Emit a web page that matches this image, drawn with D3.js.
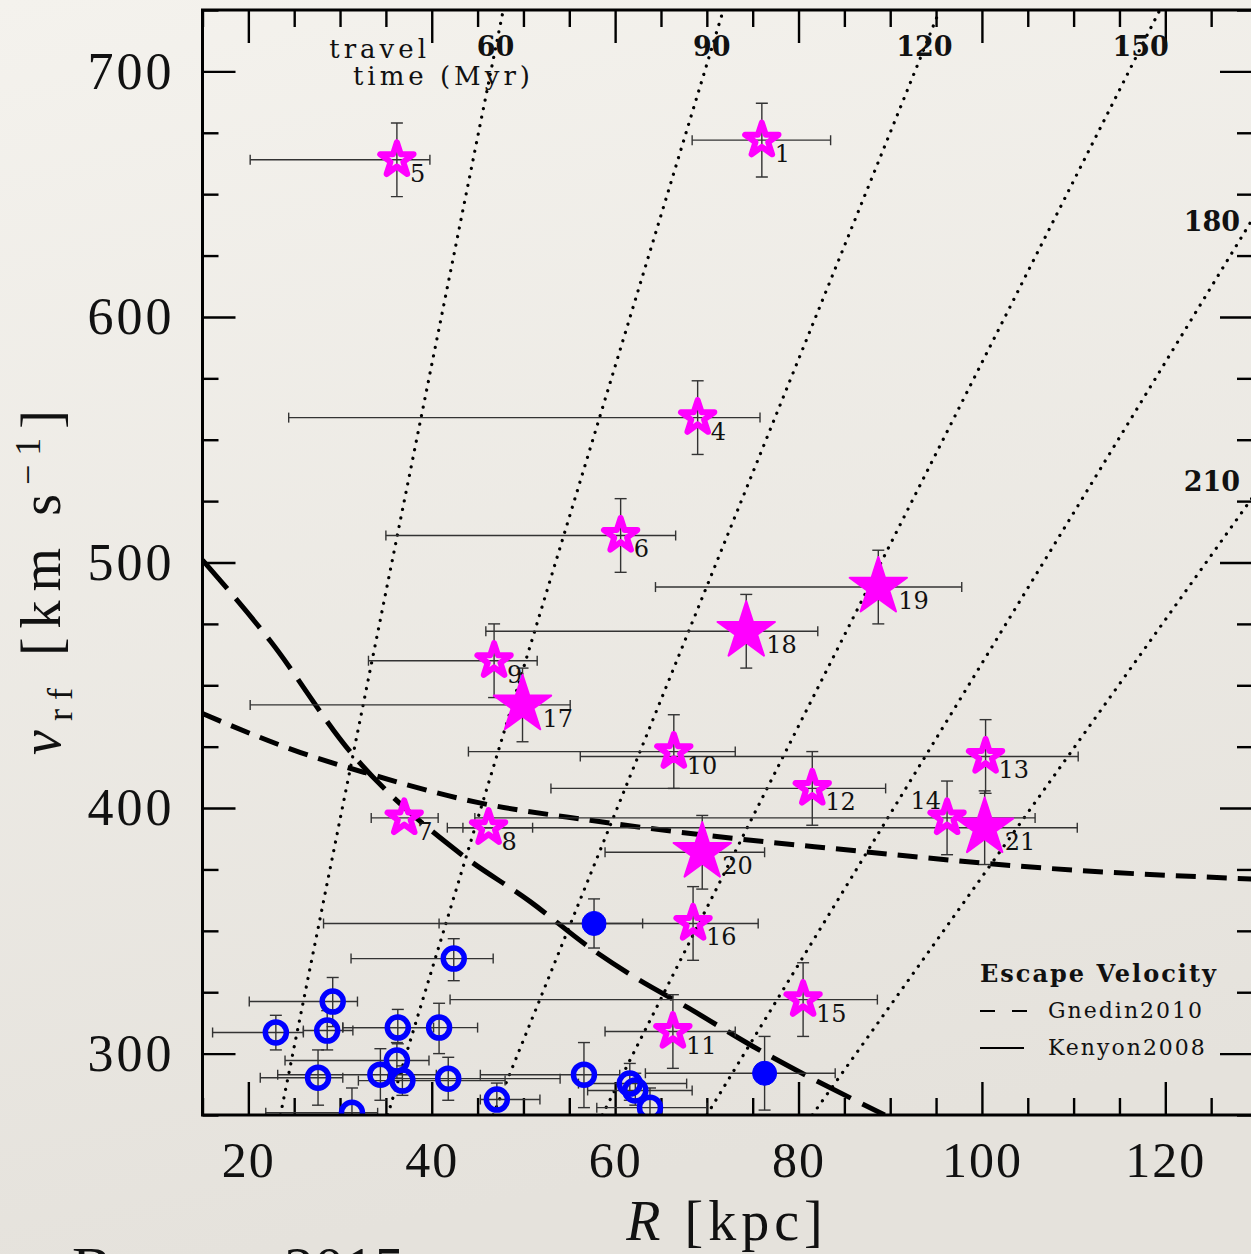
<!DOCTYPE html>
<meta charset="utf-8">
<style>
body { margin: 0; }
svg { display: block; }
.tick line { stroke: #000; stroke-width: 2.4px; }
.tick text { font-family: "Liberation Serif", serif; fill: #111; }
.err line { stroke: #333; stroke-width: 1.4px; }
</style>

<svg width="1251" height="1254"></svg>

<script src="https://d3js.org/d3.v7.min.js"></script>
<script>

// ---- data ----
// hypervelocity stars: label, R [kpc], R error range, v_rf, v error, filled?
var starLabel  = ["1", "5", "4", "6", "9", "10", "13", "12", "14", "7", "8", "16", "15", "11", "19", "18", "17", "20", "21"];
var starR      = [76.0, 36.2, 69.0, 60.6, 46.8, 66.4, 100.4, 81.5, 96.2, 37.0, 46.2, 68.5, 80.5, 66.3, 88.7, 74.3, 49.9, 69.5, 100.3];
var starRlo    = [68.4, 20.2, 24.4, 35.0, 33.1, 44.0, 56.2, 53.0, 44.7, 33.4, 43.4, 40.8, 42.0, 58.9, 64.4, 45.9, 20.2, 58.9, 41.7];
var starRhi    = [83.5, 39.8, 75.8, 66.6, 51.5, 73.1, 110.5, 89.5, 105.8, 40.7, 51.0, 75.6, 88.6, 73.1, 97.8, 82.1, 55.1, 76.3, 110.4];
var starV      = [672, 664, 559, 511, 460, 423, 421, 408, 396, 396, 392, 353, 322, 309, 490, 472, 442, 382, 392];
var starVerr   = [15, 15, 15, 15, 15, 15, 15, 15, 15, 0, 0, 15, 15, 15, 15, 15, 15, 15, 15];
var starFilled = [0, 0, 0, 0, 0, 0, 0, 0, 0, 0, 0, 0, 0, 0, 1, 1, 1, 1, 1];

// blue horizontal-branch stars
var bhbR      = [42.4, 29.2, 23.0, 28.6, 36.3, 40.8, 36.2, 27.6, 34.4, 36.8, 41.8, 47.1, 31.3, 56.6, 61.6, 62.2, 63.8, 57.7, 76.3];
var bhbRlo    = [31.2, 20.1, 16.1, 26.0, 30.3, 30.3, 24.0, 21.3, 23.2, 32.0, 35.2, 45.3, 21.9, 45.3, 56.0, 57.0, 58.0, 28.2, 63.3];
var bhbRhi    = [46.7, 31.9, 26.0, 31.4, 40.2, 45.0, 39.7, 30.3, 40.5, 48.0, 54.0, 51.8, 34.1, 60.5, 67.8, 68.4, 70.0, 63.0, 84.0];
var bhbV      = [338.7, 321.2, 308.6, 309.4, 310.6, 310.6, 297.2, 290.2, 291.4, 289.0, 289.8, 281.3, 275.9, 291.4, 287.8, 285.0, 278.0, 353.0, 292.0];
var bhbVlo    = [329.7, 311, 301.5, 301.5, 304, 300, 290, 279, 281, 283, 281, 277, 270, 278, 281, 279, 270, 343, 277];
var bhbVhi    = [346.8, 331, 315.6, 317.5, 318, 320.5, 304.5, 301.5, 302, 295, 298.5, 288, 286, 304.5, 296, 292, 286, 363, 307];
var bhbFilled = [0, 0, 0, 0, 0, 0, 0, 0, 0, 0, 0, 0, 0, 0, 0, 0, 0, 1, 1];

// travel time lines: R at v = 275 and at v = 725
var travelTime    = [60, 90, 120, 150, 180, 210];
var travelRbottom = [23.5, 35.2, 46.7, 58.6, 70.0, 81.5];
var travelRtop    = [47.8, 71.8, 95.4, 119.4, 143.4, 167.4];

// escape velocity curves [R, v]
var escSteepR  = [15, 22.4, 31.1, 43.1, 50.7, 57.3, 62.4, 67.8, 75.0, 89.4];
var escSteepV  = [501, 468, 423, 381.5, 362, 343, 330.5, 319, 303, 275];
var escShallowR = [15, 25.7, 32.75, 45.1, 57.3, 71.1, 83.8, 107.4, 130];
var escShallowV = [438.5, 422.6, 414.4, 402.2, 395, 388.4, 383.5, 375.4, 371];

var xMajor = [20, 40, 60, 80, 100, 120];
var yMajor = [300, 400, 500, 600, 700];

// ---- layout ----
var svg = d3.select("svg"),
    width = +svg.attr("width"),
    height = +svg.attr("height");

var plotL = 202.5, plotR = 1257, plotT = 10, plotB = 1115;

var x = d3.scaleLinear().domain([15, 130]).range([plotL, plotR]);
var y = d3.scaleLinear().domain([275, 725]).range([plotB, plotT]);

var defs = svg.append("defs");
var bg = defs.append("linearGradient").attr("id", "paper")
    .attr("x1", 0).attr("y1", 0).attr("x2", 0.2).attr("y2", 1);
bg.append("stop").attr("offset", "0%").attr("stop-color", "#f4f2ed");
bg.append("stop").attr("offset", "100%").attr("stop-color", "#e5e2dc");

defs.append("clipPath").attr("id", "plotclip")
  .append("rect")
    .attr("x", plotL).attr("y", plotT)
    .attr("width", plotR - plotL).attr("height", plotB - plotT);

svg.append("rect").attr("width", width).attr("height", height).attr("fill", "url(#paper)");

// ---- ticks ----
var xMinor = d3.range(15, 131, 5).filter(function(d) { return xMajor.indexOf(d) < 0; });
var yMinor = d3.range(275, 726, 25).filter(function(d) { return yMajor.indexOf(d) < 0; });

function ticks(axis, values, size, label) {
  var a = axis.tickValues(values).tickSize(-size);
  if (!label) a.tickFormat("");
  return a;
}

var gx = svg.append("g").attr("transform", "translate(0," + plotB + ")");
gx.append("g").call(ticks(d3.axisBottom(x), xMinor, 17, false));
gx.append("g").call(ticks(d3.axisBottom(x), xMajor, 33, true).tickPadding(26))
  .selectAll("text").style("font-size", "50px").style("letter-spacing", "2px");

var gxt = svg.append("g").attr("transform", "translate(0," + plotT + ")");
gxt.append("g").call(ticks(d3.axisTop(x), xMinor, 17, false));
gxt.append("g").call(ticks(d3.axisTop(x), xMajor, 33, false));

var gy = svg.append("g").attr("transform", "translate(" + plotL + ",0)");
gy.append("g").call(ticks(d3.axisLeft(y), yMinor, 16, false));
gy.append("g").call(ticks(d3.axisLeft(y), yMajor, 33, true).tickPadding(28))
  .selectAll("text").style("font-size", "52px").style("letter-spacing", "3px");

var gyr = svg.append("g").attr("transform", "translate(" + plotR + ",0)");
gyr.append("g").call(ticks(d3.axisRight(y), yMinor, 20, false));
gyr.append("g").call(ticks(d3.axisRight(y), yMajor, 37, false));

svg.selectAll(".domain").remove();

// ---- plot content ----
var plot = svg.append("g").attr("clip-path", "url(#plotclip)");

// travel time lines
plot.append("g").selectAll("line")
  .data(travelTime)
  .enter().append("line")
    .attr("x1", function(d, i) { return x(travelRbottom[i]); })
    .attr("y1", y(275))
    .attr("x2", function(d, i) { return x(travelRtop[i]); })
    .attr("y2", y(725))
    .attr("stroke", "#000")
    .attr("stroke-width", 3.2)
    .attr("stroke-linecap", "round")
    .attr("stroke-dasharray", "0.1 8.6");

// escape velocity curves
var line = d3.line().curve(d3.curveMonotoneX)
    .x(function(d) { return x(d[0]); })
    .y(function(d) { return y(d[1]); });

plot.append("path")
    .attr("d", line(escSteepR.map(function(r, i) { return [r, escSteepV[i]]; })))
    .attr("fill", "none").attr("stroke", "#000")
    .attr("stroke-width", 5).attr("stroke-dasharray", "38 13");

plot.append("path")
    .attr("d", line(escShallowR.map(function(r, i) { return [r, escShallowV[i]]; })))
    .attr("fill", "none").attr("stroke", "#000")
    .attr("stroke-width", 5).attr("stroke-dasharray", "20 11");

// error bars
function errorBar(g, xv, xlo, xhi, yv, ylo, yhi) {
  var e = g.append("g").attr("class", "err");
  e.append("line").attr("x1", x(xlo)).attr("x2", x(xhi)).attr("y1", y(yv)).attr("y2", y(yv));
  e.append("line").attr("x1", x(xlo)).attr("x2", x(xlo)).attr("y1", y(yv) - 5).attr("y2", y(yv) + 5);
  e.append("line").attr("x1", x(xhi)).attr("x2", x(xhi)).attr("y1", y(yv) - 5).attr("y2", y(yv) + 5);
  if (yhi > ylo) {
    e.append("line").attr("x1", x(xv)).attr("x2", x(xv)).attr("y1", y(ylo)).attr("y2", y(yhi));
    e.append("line").attr("x1", x(xv) - 6).attr("x2", x(xv) + 6).attr("y1", y(ylo)).attr("y2", y(ylo));
    e.append("line").attr("x1", x(xv) - 6).attr("x2", x(xv) + 6).attr("y1", y(yhi)).attr("y2", y(yhi));
  }
}

var bars = plot.append("g");
bhbR.forEach(function(r, i) {
  errorBar(bars, r, bhbRlo[i], bhbRhi[i], bhbV[i], bhbVlo[i], bhbVhi[i]);
});
starR.forEach(function(r, i) {
  errorBar(bars, r, starRlo[i], starRhi[i], starV[i], starV[i] - starVerr[i], starV[i] + starVerr[i]);
});

// blue circles
plot.append("g").selectAll("circle")
  .data(bhbR)
  .enter().append("circle")
    .attr("cx", function(d) { return x(d); })
    .attr("cy", function(d, i) { return y(bhbV[i]); })
    .attr("r", function(d, i) { return bhbFilled[i] ? 12 : 10.5; })
    .attr("fill", function(d, i) { return bhbFilled[i] ? "#0000ff" : "none"; })
    .attr("stroke", "#0000ff")
    .attr("stroke-width", function(d, i) { return bhbFilled[i] ? 1 : 5.5; });

// stars
var openStar = d3.symbol().type(d3.symbolStar).size(345)();
var bigStar = d3.symbol().type(d3.symbolStar).size(1020)();

plot.append("g").selectAll("path")
  .data(starR)
  .enter().append("path")
    .attr("transform", function(d, i) { return "translate(" + x(d) + "," + y(starV[i]) + ")"; })
    .attr("d", function(d, i) { return starFilled[i] ? bigStar : openStar; })
    .attr("fill", function(d, i) { return starFilled[i] ? "#ff00ff" : "none"; })
    .attr("stroke", "#ff00ff")
    .attr("stroke-linejoin", "round")
    .attr("stroke-width", function(d, i) { return starFilled[i] ? 2 : 6; });

svg.append("g").selectAll("text")
  .data(starLabel)
  .enter().append("text")
    .attr("x", function(d, i) {
      if (d === "14") return x(starR[i]) - 6;
      return x(starR[i]) + (starFilled[i] ? 20 : 13);
    })
    .attr("y", function(d, i) {
      if (d === "14") return y(starV[i]) - 9;
      return y(starV[i]) + 22;
    })
    .attr("text-anchor", function(d) { return d === "14" ? "end" : "start"; })
    .style("font-family", "'DejaVu Serif', serif")
    .style("font-size", "24px")
    .attr("fill", "#111")
    .text(function(d) { return d; });

// travel time labels
var labelV = 709.5;
travelTime.forEach(function(t, i) {
  var rb = travelRbottom[i], rt = travelRtop[i];
  var lab = svg.append("text")
      .style("font-family", "'DejaVu Serif', serif")
      .style("font-size", "27px")
      .style("font-weight", "bold")
      .attr("fill", "#111")
      .attr("dominant-baseline", "middle")
      .text(t);
  if (rt <= 130) {
    lab.attr("x", x(rb + (labelV - 275) / 450 * (rt - rb))).attr("y", y(labelV))
       .attr("text-anchor", "middle");
  } else {
    var vEdge = 275 + (130 - rb) / (rt - rb) * 450;
    lab.attr("x", 1240).attr("y", y(vEdge) + (t === 180 ? 12 : -8)).attr("text-anchor", "end");
  }
});

var tt = svg.append("g")
    .style("font-family", "'DejaVu Serif', serif")
    .style("font-size", "26px")
    .style("letter-spacing", "4px")
    .attr("fill", "#111");
tt.append("text").attr("x", 430).attr("y", 58).attr("text-anchor", "end").text("travel");
tt.append("text").attr("x", 534).attr("y", 85).attr("text-anchor", "end").text("time (Myr)");

// legend
var leg = svg.append("g").attr("fill", "#111")
    .style("font-family", "'DejaVu Serif', serif");
leg.append("text").attr("x", 980).attr("y", 982)
    .style("font-size", "24px").style("font-weight", "bold").style("letter-spacing", "2px")
    .text("Escape Velocity");
leg.append("line").attr("x1", 980).attr("x2", 1028).attr("y1", 1011).attr("y2", 1011)
    .attr("stroke", "#000").attr("stroke-width", 2).attr("stroke-dasharray", "15 17");
leg.append("text").attr("x", 1048).attr("y", 1018)
    .style("font-size", "22px").style("letter-spacing", "2px").text("Gnedin2010");
leg.append("line").attr("x1", 980).attr("x2", 1024).attr("y1", 1048).attr("y2", 1048)
    .attr("stroke", "#000").attr("stroke-width", 2);
leg.append("text").attr("x", 1048).attr("y", 1055)
    .style("font-size", "22px").style("letter-spacing", "2px").text("Kenyon2008");

// frame
svg.append("rect")
    .attr("x", plotL).attr("y", plotT)
    .attr("width", plotR - plotL).attr("height", plotB - plotT)
    .attr("fill", "none").attr("stroke", "#000").attr("stroke-width", 3);

// axis titles
var xt = svg.append("text")
    .attr("x", 727).attr("y", 1240).attr("text-anchor", "middle")
    .style("font-family", "'Liberation Serif', serif")
    .style("font-size", "56px").style("letter-spacing", "5px")
    .attr("fill", "#111");
xt.append("tspan").style("font-style", "italic").text("R");
xt.append("tspan").text(" [kpc]");

var yt = svg.append("text")
    .attr("transform", "translate(60,578) rotate(-90)")
    .attr("text-anchor", "middle")
    .style("font-family", "'Liberation Serif', serif")
    .style("font-size", "56px").style("letter-spacing", "9px")
    .attr("fill", "#111");
yt.append("tspan").style("font-style", "italic").text("v");
yt.append("tspan").attr("dy", 12).style("font-size", "36px").text("rf");
yt.append("tspan").attr("dy", -12).text(" [km s");
yt.append("tspan").attr("dy", -20).style("font-size", "36px").text("\u22121");
yt.append("tspan").attr("dy", 20).text("]");

// citation at the bottom edge of the slide, mostly cut off
svg.append("text")
    .attr("x", 72).attr("y", 1288)
    .style("font-family", "'Liberation Serif', serif")
    .style("font-size", "60px")
    .attr("fill", "#111")
    .text("Brown+ 2015");

</script>
